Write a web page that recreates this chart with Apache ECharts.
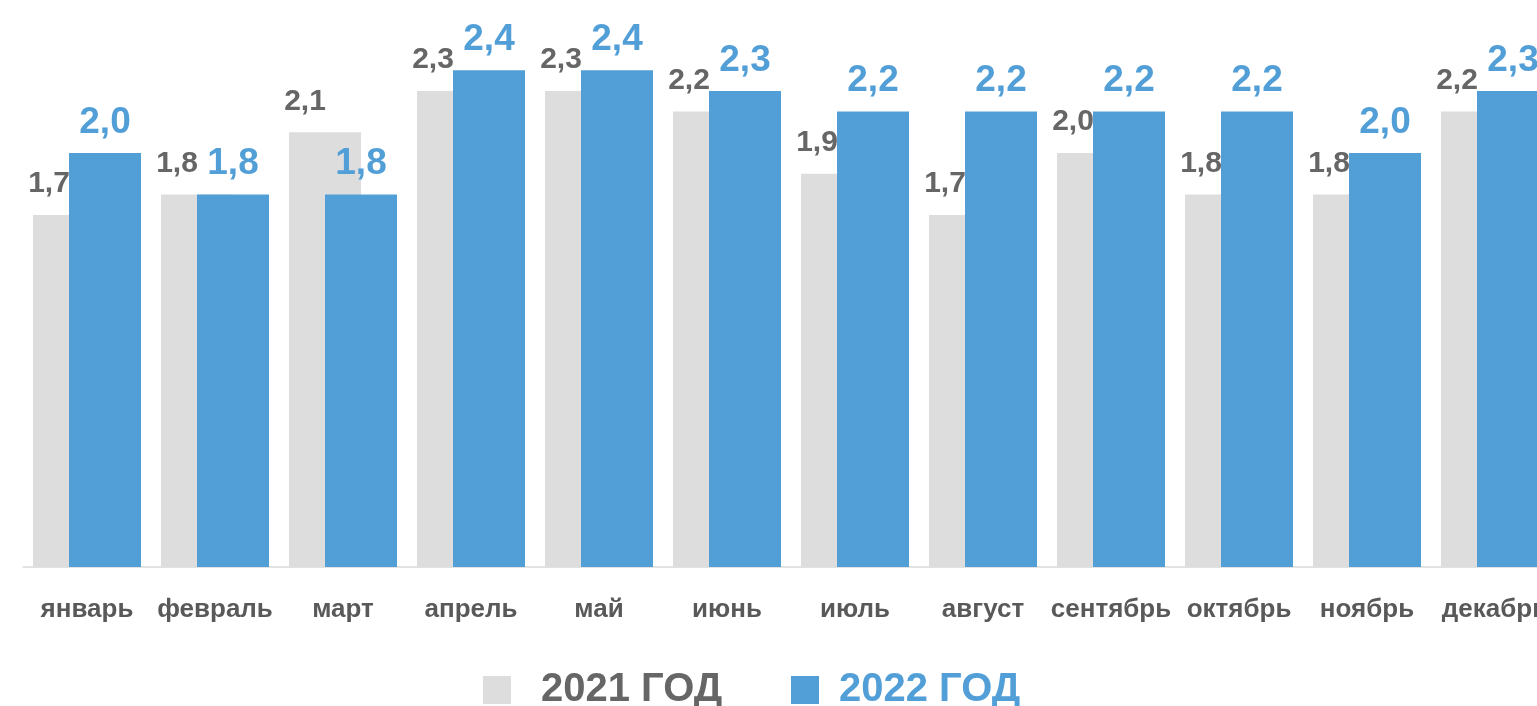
<!DOCTYPE html>
<html>
<head>
<meta charset="utf-8">
<script src="https://cdn.jsdelivr.net/npm/echarts@6/dist/echarts.min.js"></script>
<style>
html,body{margin:0;padding:0;background:#fff;}
#chart{width:1537px;height:706px;}
</style>
</head>
<body>
<div id="chart"></div>
<script>
var months = ['январь','февраль','март','апрель','май','июнь','июль','август','сентябрь','октябрь','ноябрь','декабрь'];
var values2021 = [1.7,1.8,2.1,2.3,2.3,2.2,1.9,1.7,2.0,1.8,1.8,2.2];
var values2022 = [2.0,1.8,1.8,2.4,2.4,2.3,2.2,2.2,2.2,2.2,2.0,2.3];
var seriesNames = ['2021 ГОД','2022 ГОД'];

var FONT = '"Liberation Sans", Arial, sans-serif';
var GREY = '#dddddd';
var BLUE = '#529fd7';
function fmt(p){ return String(p.value.toFixed(1)).replace('.', ','); }

var chart = echarts.init(document.getElementById('chart'));
chart.setOption({
  animation: false,
  backgroundColor: '#ffffff',
  grid: { left: 23, top: 49.5, width: 1536, height: 517.5, containLabel: false, outerBoundsMode: 'none' },
  legend: [
    {
      left: 478, top: 665, itemWidth: 28, itemHeight: 28, icon: 'rect',
      data: [{ name: seriesNames[0] }],
      textStyle: { fontFamily: FONT, fontSize: 40, fontWeight: 'bold', color: '#666666', padding: [0,0,0,25] }
    },
    {
      left: 786, top: 665, itemWidth: 28, itemHeight: 28, icon: 'rect',
      data: [{ name: seriesNames[1] }],
      textStyle: { fontFamily: FONT, fontSize: 40, fontWeight: 'bold', color: BLUE, padding: [0,0,0,15] }
    }
  ],
  xAxis: {
    type: 'category',
    data: months,
    axisLine: { show: true, lineStyle: { color: '#d9d9d9', width: 1.5 } },
    axisTick: { show: false },
    axisLabel: { fontFamily: FONT, fontSize: 26, fontWeight: 'bold', color: '#595959', margin: 30, interval: 0, hideOverlap: false }
  },
  yAxis: {
    type: 'value', min: 0, max: 2.5,
    show: false, splitLine: { show: false }
  },
  series: [
    {
      name: seriesNames[0], type: 'bar', data: values2021,
      barWidth: 72, barGap: '-50%',
      itemStyle: { color: GREY },
      label: { show: true, position: 'top', distance: 16, offset: [-20, 0], formatter: fmt,
               fontFamily: FONT, fontSize: 30, fontWeight: 'bold', color: '#666666' },
      z: 2
    },
    {
      name: seriesNames[1], type: 'bar', data: values2022,
      barWidth: 72,
      itemStyle: { color: BLUE },
      label: { show: true, position: 'top', distance: 12, formatter: fmt,
               fontFamily: FONT, fontSize: 37, fontWeight: 'bold', color: BLUE },
      z: 2
    }
  ]
});
</script>
</body>
</html>
